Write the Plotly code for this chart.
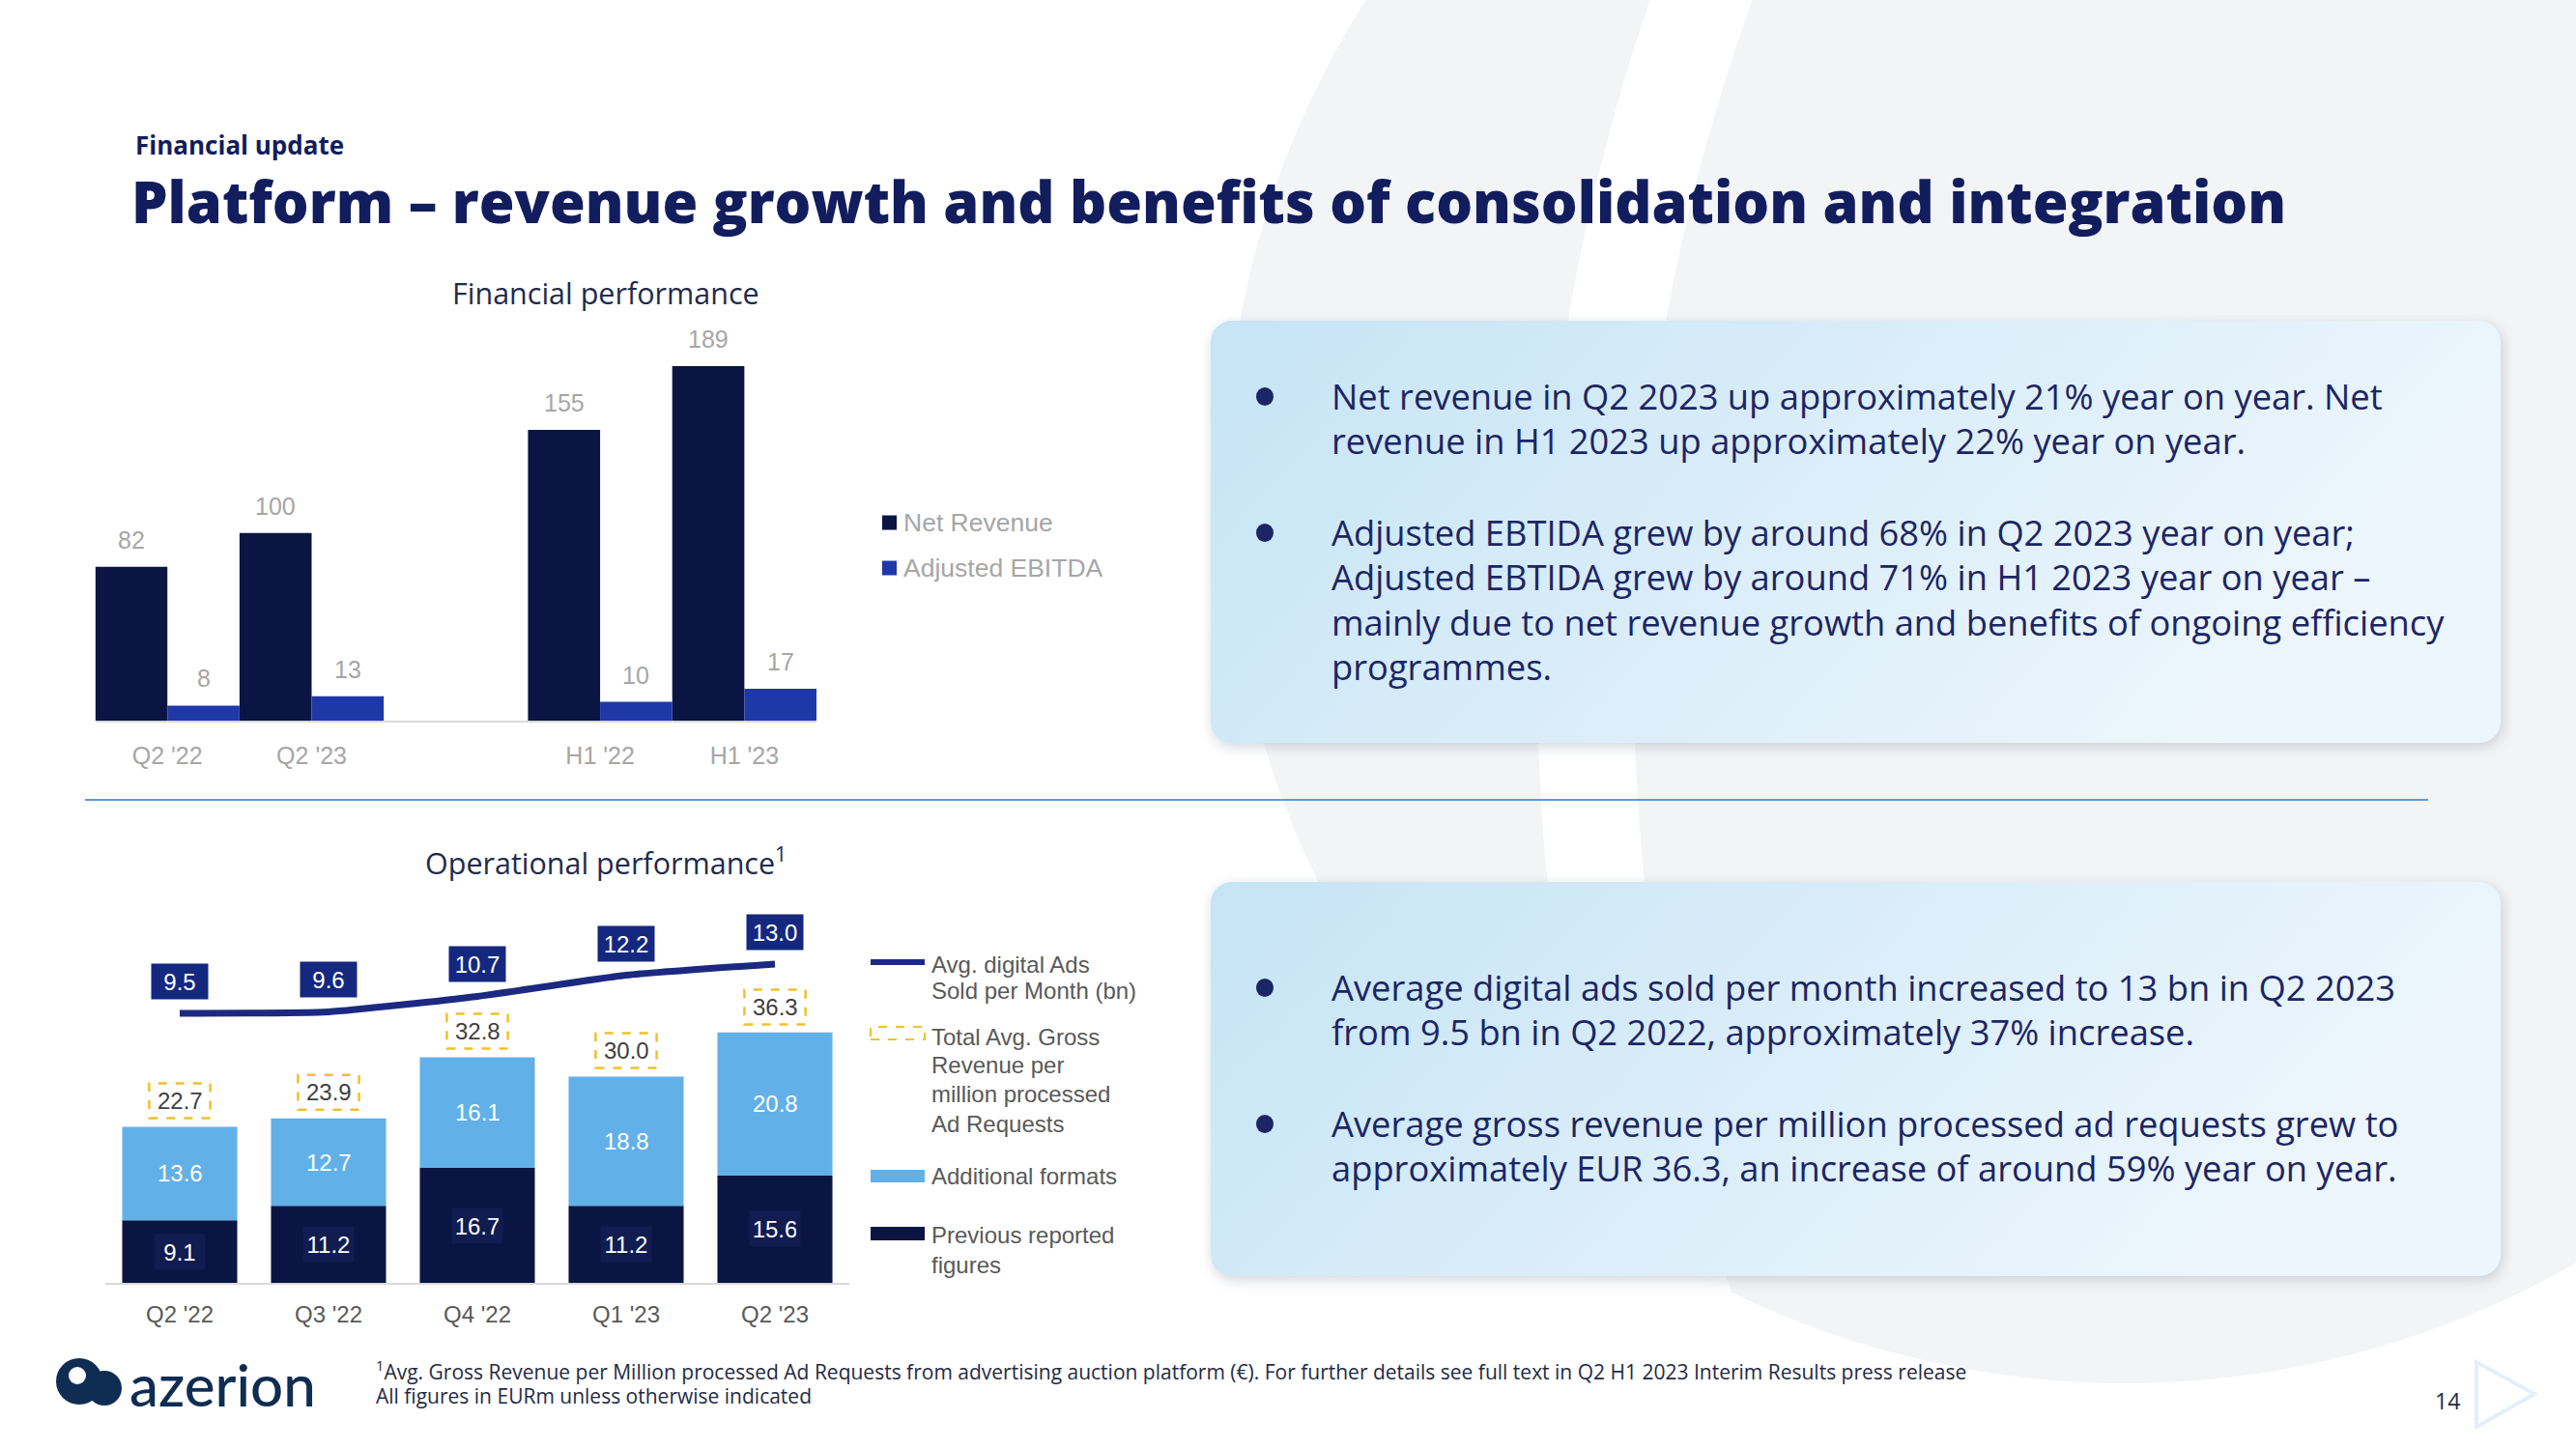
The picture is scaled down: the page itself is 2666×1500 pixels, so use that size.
import base64
import plotly.graph_objects as go

W, H = 2666, 1500

# ---------------- data ----------------
fin_periods = ["Q2 '22", "Q2 '23", "H1 '22", "H1 '23"]
fin_slots = ["Q2 '22", "Q2 '23", " ", "H1 '22", "H1 '23"]
net_revenue = [82, 100, 155, 189]
adj_ebitda = [8, 13, 10, 17]

op_quarters = ["Q2 '22", "Q3 '22", "Q4 '22", "Q1 '23", "Q2 '23"]
prev_reported = [9.1, 11.2, 16.7, 11.2, 15.6]
additional_formats = [13.6, 12.7, 16.1, 18.8, 20.8]
total_gross_rev = [22.7, 23.9, 32.8, 30.0, 36.3]
ads_sold_bn = [9.5, 9.6, 10.7, 12.2, 13.0]

NAVY = "#0A1543"
ROYAL = "#1F38A8"
LIGHT = "#62B0E8"
LINE = "#1B2A80"
YELLOW = "#F0C02C"
TITLE = "#121D5E"
NUMF = "Liberation Sans"
TXTF = "Open Sans"


def px(x):
    return x / W


def py(y):
    return 1 - y / H


fig = go.Figure()

# ---------------- top chart: financial performance ----------------
fig.add_trace(go.Bar(x=fin_periods, y=net_revenue, name="Net Revenue", marker_color=NAVY,
                     marker_line_width=0, width=0.5, offset=-0.5, xaxis="x", yaxis="y",
                     showlegend=False, hoverinfo="x+y"))
fig.add_trace(go.Bar(x=fin_periods, y=adj_ebitda, name="Adjusted EBITDA", marker_color=ROYAL,
                     marker_line_width=0, width=0.5, offset=0.0, xaxis="x", yaxis="y",
                     showlegend=False, hoverinfo="x+y"))
# spacer category between the quarter and half-year groups
fig.add_trace(go.Scatter(x=[" "], y=[0], mode="markers", marker_opacity=0, xaxis="x", yaxis="y",
                         showlegend=False, hoverinfo="skip"))

annotations = []
shapes = []
for p, v in zip(fin_periods, net_revenue):
    i = fin_slots.index(p)
    annotations.append(dict(x=i - 0.25, y=v, xref="x", yref="y", text=str(v), showarrow=False,
                            yanchor="bottom", yshift=12, font=dict(size=25, color="#A6A6A6", family=NUMF)))
for p, v in zip(fin_periods, adj_ebitda):
    i = fin_slots.index(p)
    annotations.append(dict(x=i + 0.25, y=v, xref="x", yref="y", text=str(v), showarrow=False,
                            yanchor="bottom", yshift=12, font=dict(size=25, color="#A6A6A6", family=NUMF)))

# ---------------- bottom chart: operational performance ----------------
fig.add_trace(go.Bar(x=op_quarters, y=prev_reported, name="Previous reported figures",
                     marker_color=NAVY, marker_line_width=0, width=0.773, offset=-0.3865,
                     offsetgroup="op", xaxis="x2", yaxis="y2", showlegend=False))
fig.add_trace(go.Bar(x=op_quarters, y=additional_formats, base=prev_reported, name="Additional formats",
                     marker_color=LIGHT, marker_line_width=0, width=0.773, offset=-0.3865,
                     offsetgroup="op", xaxis="x2", yaxis="y2", showlegend=False))
fig.add_trace(go.Scatter(x=op_quarters, y=ads_sold_bn, mode="lines", name="Avg. digital Ads Sold per Month (bn)",
                         line=dict(color=LINE, width=7, shape="spline", smoothing=0.5),
                         xaxis="x2", yaxis="y3", showlegend=False))

for q, a in zip(op_quarters, ads_sold_bn):
    annotations.append(dict(x=q, y=a, xref="x2", yref="y3", text=f"{a:.1f}", showarrow=False,
                            yshift=33, bgcolor="#15287F", borderpad=4, width=50, height=28,
                            font=dict(size=24, color="white", family=NUMF)))
for i, (q, t) in enumerate(zip(op_quarters, total_gross_rev)):
    annotations.append(dict(x=q, y=t, xref="x2", yref="y2", text=f"{t:.1f}", showarrow=False,
                            yshift=27, font=dict(size=24, color="#404040", family=NUMF)))
    shapes.append(dict(type="rect", xref="x2", yref="y2", x0=i - 0.205, x1=i + 0.205,
                       ysizemode="pixel", yanchor=t, y0=9, y1=45,
                       line=dict(color=YELLOW, width=2.5, dash="dash"), fillcolor="rgba(0,0,0,0)"))
for q, pv, ad in zip(op_quarters, prev_reported, additional_formats):
    annotations.append(dict(x=q, y=pv / 2, xref="x2", yref="y2", text=f"{pv:.1f}", showarrow=False,
                            bgcolor="#111C50", borderpad=4, width=44, height=28,
                            font=dict(size=24, color="white", family=NUMF)))
    annotations.append(dict(x=q, y=pv + ad / 2, xref="x2", yref="y2", text=f"{ad:.1f}", showarrow=False,
                            font=dict(size=24, color="white", family=NUMF)))


# ---------------- background decorations (svg images) ----------------
def svg_uri(svg):
    return "data:image/svg+xml;base64," + base64.b64encode(svg.encode()).decode()


bg_svg = f"""<svg xmlns='http://www.w3.org/2000/svg' width='{W}' height='{H}'>
<defs><clipPath id='c'><circle cx='2200' cy='500' r='932'/></clipPath></defs>
<circle cx='2200' cy='500' r='932' fill='#F3F4F6'/>
<circle cx='3751' cy='700' r='2110' fill='none' stroke='#FFFFFF' stroke-width='100' clip-path='url(#c)'/>
</svg>"""

images = [dict(source=svg_uri(bg_svg), xref="paper", yref="paper", x=0, y=1, sizex=1, sizey=1,
               xanchor="left", yanchor="top", sizing="stretch", layer="below")]


def box_svg(w, h, m):
    return svg_uri(f"""<svg xmlns='http://www.w3.org/2000/svg' width='{w + 2 * m}' height='{h + 2 * m}'>
<defs>
<linearGradient id='g' x1='0' y1='0' x2='1' y2='0.3'>
<stop offset='0' stop-color='#C6E4F5'/><stop offset='1' stop-color='#EDF6FC'/>
</linearGradient>
<filter id='s' x='-10%' y='-10%' width='120%' height='120%'>
<feGaussianBlur stdDeviation='7'/>
</filter>
</defs>
<rect x='{m + 2}' y='{m + 4}' width='{w}' height='{h}' rx='22' fill='#9aa3ad' opacity='0.45' filter='url(#s)'/>
<rect x='{m}' y='{m}' width='{w}' height='{h}' rx='22' fill='url(#g)'/>
</svg>""")


for (x0, y0, x1, y1) in [(1253, 332, 2588, 769), (1253, 913, 2588, 1321)]:
    m = 24
    images.append(dict(source=box_svg(x1 - x0, y1 - y0, m), xref="paper", yref="paper",
                       x=px(x0 - m), y=py(y0 - m), sizex=(x1 - x0 + 2 * m) / W, sizey=(y1 - y0 + 2 * m) / H,
                       xanchor="left", yanchor="top", sizing="stretch", layer="below"))

# divider
shapes.append(dict(type="line", xref="paper", yref="paper", x0=px(88), x1=px(2513), y0=py(828), y1=py(828),
                   line=dict(color="#5B9BD5", width=2)))

# faint triangle near page number
shapes.append(dict(type="path", xref="paper", yref="paper",
                   path=f"M {px(2563)} {py(1410)} L {px(2623)} {py(1443)} L {px(2563)} {py(1477)} Z",
                   line=dict(color="#E3EFF9", width=4)))


def text(x, y, s, size, color, family=TXTF, weight="normal", xanchor="left"):
    annotations.append(dict(x=px(x), y=py(y), xref="paper", yref="paper", text=s, showarrow=False,
                            xanchor=xanchor, yanchor="middle",
                            font=dict(size=size, color=color, family=family, weight=weight)))


# titles
text(138, 150, "Financial update", 26, TITLE, weight="bold")
text(134, 207, "Platform – revenue growth and benefits of consolidation and integration", 59.5, TITLE, weight=800)
text(627, 303, "Financial performance", 30.5, "#1F2B4D", xanchor="center")
text(627, 891, "Operational performance<sup>1</sup>", 30.5, "#1F2B4D", xanchor="center")

# top legend
for (yy, col, lab) in [(541, NAVY, "Net Revenue"), (588, ROYAL, "Adjusted EBITDA")]:
    shapes.append(dict(type="rect", xref="paper", yref="paper", x0=px(913), x1=px(928), y0=py(yy + 7.5),
                       y1=py(yy - 7.5), fillcolor=col, line_width=0))
    text(933, yy, lab, 26.5, "#A6A6A6", family=NUMF)

# bottom legend
LG = "#595959"
shapes.append(dict(type="line", xref="paper", yref="paper", x0=px(901), x1=px(957), y0=py(996), y1=py(996),
                   line=dict(color=LINE, width=6)))
text(962, 998, "Avg. digital Ads", 24, LG, family=NUMF)
text(962, 1025, "Sold per Month (bn)", 24, LG, family=NUMF)
shapes.append(dict(type="rect", xref="paper", yref="paper", x0=px(901), x1=px(957), y0=py(1076), y1=py(1063),
                   line=dict(color=YELLOW, width=2, dash="dash")))
for yy, s in [(1073, "Total Avg. Gross"), (1102, "Revenue per"), (1132, "million processed"), (1163, "Ad Requests")]:
    text(962, yy, s, 24, LG, family=NUMF)
shapes.append(dict(type="rect", xref="paper", yref="paper", x0=px(901), x1=px(957), y0=py(1224), y1=py(1211),
                   fillcolor=LIGHT, line_width=0))
text(962, 1217, "Additional formats", 24, LG, family=NUMF)
shapes.append(dict(type="rect", xref="paper", yref="paper", x0=px(901), x1=px(957), y0=py(1284), y1=py(1270),
                   fillcolor=NAVY, line_width=0))
text(962, 1278, "Previous reported", 24, LG, family=NUMF)
text(962, 1309, "figures", 24, LG, family=NUMF)

# bullet boxes text
BT = "#1B2565"
bullets = [
    (410, ["Net revenue in Q2 2023 up approximately 21% year on year. Net",
           "revenue in H1 2023 up approximately 22% year on year."]),
    (551, ["Adjusted EBTIDA grew by around 68% in Q2 2023 year on year;",
           "Adjusted EBTIDA grew by around 71% in H1 2023 year on year –",
           "mainly due to net revenue growth and benefits of ongoing efficiency",
           "programmes."]),
    (1022, ["Average digital ads sold per month increased to 13 bn in Q2 2023",
            "from 9.5 bn in Q2 2022, approximately 37% increase."]),
    (1163, ["Average gross revenue per million processed ad requests grew to",
            "approximately EUR 36.3, an increase of around 59% year on year."]),
]
for y0, lines in bullets:
    shapes.append(dict(type="circle", xref="paper", yref="paper", x0=px(1300), x1=px(1318), y0=py(y0 + 10),
                       y1=py(y0 - 9), fillcolor=BT, line_width=0))
    for k, s in enumerate(lines):
        text(1376, y0 + k * 46.3, s, 36.3, BT)

# footer
text(387, 1418, "<sup>1</sup>Avg. Gross Revenue per Million processed Ad Requests from advertising auction platform (€). "
     "For further details see full text in Q2 H1 2023 Interim Results press release", 21, "#1F2A44")
text(387, 1445, "All figures in EURm unless otherwise indicated", 21, "#1F2A44")
text(2533, 1450, "14", 23, "#1F2A44", xanchor="center")
text(132, 1433, "azerion", 60, "#0F2D52", family="Lato", weight=500)
for (cx, cy, r, col) in [(82, 1430, 24, "#0F2D52"), (108, 1437, 18, "#0F2D52"), (80, 1424, 9, "#FFFFFF")]:
    shapes.append(dict(type="circle", xref="paper", yref="paper", x0=px(cx - r), x1=px(cx + r),
                       y0=py(cy + r), y1=py(cy - r), fillcolor=col, line_width=0))

# ---------------- layout ----------------
fig.update_layout(
    width=W, height=H, margin=dict(l=0, r=0, t=0, b=0),
    paper_bgcolor="white", plot_bgcolor="rgba(0,0,0,0)",
    barmode="group", showlegend=False,
    xaxis=dict(domain=[px(98.6), px(845)], type="category", categoryorder="array", categoryarray=fin_slots,
               tickmode="array", tickvals=fin_periods, ticktext=fin_periods,
               range=[-0.5, 4.5], showline=True, linecolor="#D9D9D9", linewidth=2, ticks="",
               showgrid=False, zeroline=False, tickfont=dict(size=25, color="#A6A6A6", family=NUMF),
               ticklabelstandoff=13, anchor="y"),
    yaxis=dict(domain=[py(746), py(330)], range=[0, 214.2], visible=False, anchor="x"),
    xaxis2=dict(domain=[px(109), px(879)], type="category", categoryorder="array", categoryarray=op_quarters,
                range=[-0.5, 4.5], showline=True, linecolor="#D9D9D9", linewidth=2, ticks="",
                showgrid=False, zeroline=False, tickfont=dict(size=24, color="#595959", family=NUMF),
                ticklabelstandoff=10, anchor="y2"),
    yaxis2=dict(domain=[py(1328), py(972)], range=[0, 50], visible=False, anchor="x2"),
    yaxis3=dict(overlaying="y2", range=[-9.65, 14.78], visible=False, anchor="x2"),
    annotations=annotations, shapes=shapes, images=images,
)

fig.write_html("out.html", config={"displayModeBar": False},
               post_script="document.body.style.margin='0';document.body.style.overflow='hidden';")
